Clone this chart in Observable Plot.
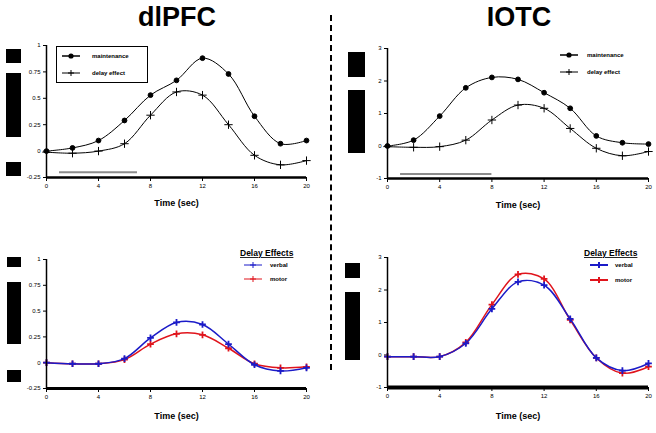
<!DOCTYPE html>
<html>
<head>
<meta charset="utf-8">
<script src="https://cdn.jsdelivr.net/npm/d3@7"></script>
<script src="https://cdn.jsdelivr.net/npm/@observablehq/plot@0.6"></script>
<style>
  body { margin: 0; background: #fff; }
  #root { position: relative; width: 656px; height: 433px; background: #fff; overflow: hidden; font-family: "Liberation Sans", Arial, sans-serif; }
  .abs { position: absolute; }
  .title { position: absolute; font-weight: bold; font-size: 27px; line-height: 27px; text-align: center; width: 200px; }
  .redact { position: absolute; background: #000; }
  .leg { position: absolute; overflow: visible; }
</style>
</head>
<body>
<div id="root"></div>
<script>
// ---- data ----
const time = [0, 2, 4, 6, 8, 10, 12, 14, 16, 18, 20];
const xTicks = [0, 4, 8, 12, 16, 20];

const dlpfcMaintenance = [0, 0.03, 0.10, 0.29, 0.53, 0.67, 0.88, 0.73, 0.33, 0.07, 0.10];
const dlpfcDelay       = [-0.01, -0.02, 0, 0.07, 0.34, 0.56, 0.53, 0.25, -0.04, -0.13, -0.09];
const lotcMaintenance  = [0, 0.18, 0.92, 1.79, 2.11, 2.05, 1.64, 1.16, 0.31, 0.10, 0.06];
const lotcDelay        = [-0.02, -0.04, -0.02, 0.18, 0.80, 1.26, 1.16, 0.54, -0.07, -0.30, -0.17];

const dlpfcBlue = [0, -0.01, -0.01, 0.04, 0.24, 0.39, 0.37, 0.18, -0.02, -0.08, -0.05];
const dlpfcRed  = [0, -0.01, -0.01, 0.03, 0.18, 0.28, 0.27, 0.14, -0.01, -0.05, -0.04];
const lotcBlue  = [-0.05, -0.05, -0.05, 0.36, 1.42, 2.25, 2.15, 1.11, -0.09, -0.48, -0.26];
const lotcRed   = [-0.05, -0.05, -0.05, 0.39, 1.55, 2.48, 2.34, 1.08, -0.09, -0.56, -0.36];

const dlpfcTicks = [-0.25, 0, 0.25, 0.5, 0.75, 1];
const lotcTicks  = [-1, 0, 1, 2, 3];

const stimDlpfc = [1, 7];   const stimDlpfcLevel = -0.2;
const stimLotc  = [1, 8];   const stimLotcLevel  = -0.86;

const titles = ["dlPFC", "IOTC"];
const legendTop = ["maintenance", "delay effect"];
const legendBottomTitle = "Delay Effects";
const legendBottom = ["verbal", "motor"];
const axisTitle = "Time (sec)";

const BLUE = "#1b1bc8", RED = "#e0141c", GRAY = "#8c8c8c";

// ---- helpers ----
const root = document.getElementById("root");
const rows = arr => time.map((t, i) => ({t, v: arr[i]}));

function panel({left, top, width, height, mL, mR, mT, mB, yDomain, yTicks, series, stim, stimLevel, xAxisWidth, labelDy}) {
  const marks = [];
  if (stim) marks.push(Plot.ruleY([stimLevel], {x1: stim[0], x2: stim[1], stroke: GRAY, strokeWidth: 2}));
  for (const s of series) {
    marks.push(Plot.line(rows(s.values), {x: "t", y: "v", stroke: s.color, strokeWidth: s.lw || 1, curve: "catmull-rom"}));
    marks.push(Plot.dot(rows(s.values), {x: "t", y: "v", symbol: s.symbol,
      fill: s.symbol === "circle" ? s.color : "none", stroke: s.color, strokeWidth: s.mw || 1, r: s.r || 3}));
  }
  marks.push(Plot.ruleY([yDomain[0]], {strokeWidth: xAxisWidth}));
  marks.push(Plot.ruleX([0], {strokeWidth: 1.5}));
  marks.push(Plot.text([axisTitle], {frameAnchor: "bottom", dy: labelDy, fontSize: 9, fontWeight: "bold"}));
  const chart = Plot.plot({
    width, height, marginLeft: mL, marginRight: mR, marginTop: mT, marginBottom: mB,
    x: {domain: [0, 20], ticks: xTicks, tickSize: 4, tickPadding: 2, label: null},
    y: {domain: yDomain, ticks: yTicks, tickSize: 3, tickPadding: 3, label: null, tickFormat: d => String(d)},
    style: {fontSize: "6px", fontFamily: "Liberation Sans, Arial, sans-serif", color: "#000", background: "transparent", overflow: "visible"},
    marks
  });
  chart.style.position = "absolute";
  chart.style.left = left + "px";
  chart.style.top = top + "px";
  root.appendChild(chart);
}

panel({left: 0, top: 30, width: 330, height: 195, mL: 46, mR: 24, mT: 15, mB: 48,
  yDomain: [-0.25, 1], yTicks: dlpfcTicks, stim: stimDlpfc, stimLevel: stimDlpfcLevel, xAxisWidth: 2.5, labelDy: 28,
  series: [
    {values: dlpfcMaintenance, color: "#000", symbol: "circle", r: 2.4},
    {values: dlpfcDelay, color: "#000", symbol: "plus", r: 2.8}
  ]});
panel({left: 330, top: 30, width: 326, height: 195, mL: 57, mR: 8, mT: 18, mB: 47,
  yDomain: [-1, 3], yTicks: lotcTicks, stim: stimLotc, stimLevel: stimLotcLevel, xAxisWidth: 2.5, labelDy: 29,
  series: [
    {values: lotcMaintenance, color: "#000", symbol: "circle", r: 2.4},
    {values: lotcDelay, color: "#000", symbol: "plus", r: 2.8}
  ]});
panel({left: 0, top: 240, width: 330, height: 190, mL: 46, mR: 24, mT: 19, mB: 42,
  yDomain: [-0.25, 1], yTicks: dlpfcTicks, xAxisWidth: 3, labelDy: 30,
  series: [
    {values: dlpfcRed, color: RED, symbol: "plus", r: 2.3, lw: 1.5, mw: 1.8},
    {values: dlpfcBlue, color: BLUE, symbol: "plus", r: 2.3, lw: 1.5, mw: 1.8}
  ]});
panel({left: 330, top: 240, width: 326, height: 190, mL: 57, mR: 8, mT: 17, mB: 43,
  yDomain: [-1, 3], yTicks: lotcTicks, xAxisWidth: 4, labelDy: 31,
  series: [
    {values: lotcRed, color: RED, symbol: "plus", r: 2.3, lw: 1.5, mw: 1.8},
    {values: lotcBlue, color: BLUE, symbol: "plus", r: 2.3, lw: 1.5, mw: 1.8}
  ]});

// ---- titles ----
function addTitle(text, cx) {
  const d = document.createElement("div");
  d.className = "title";
  d.textContent = text;
  d.style.left = (cx - 100) + "px";
  d.style.top = "4px";
  root.appendChild(d);
}
addTitle(titles[0], 177);
addTitle(titles[1], 519);

// ---- divider ----
const div = document.createElement("div");
div.className = "abs";
Object.assign(div.style, {left: "330px", top: "15px", width: "0px", height: "355px", borderLeft: "2px dashed #000"});
root.appendChild(div);

// ---- redaction boxes ----
[[6,49,15,14],[6,73,15,64],[6,162,15,14],
 [348,52,17,25],[348,90,17,63],
 [7,257,14,10],[7,282,14,62],[7,370,14,12],
 [345,263,15,15],[345,292,15,68]].forEach(([x,y,w,h]) => {
  const r = document.createElement("div");
  r.className = "redact";
  Object.assign(r.style, {left: x+"px", top: y+"px", width: w+"px", height: h+"px"});
  root.appendChild(r);
});

// ---- legends ----
const NS = "http://www.w3.org/2000/svg";
function legend({x, y, w, h, box, title, items}) {
  const svg = document.createElementNS(NS, "svg");
  svg.setAttribute("class", "leg");
  svg.setAttribute("width", w); svg.setAttribute("height", h);
  svg.style.left = x + "px"; svg.style.top = y + "px";
  let html = "";
  if (box) html += `<rect x="0.5" y="0.5" width="${w-1}" height="${h-1}" fill="white" stroke="black"/>`;
  if (title) html += `<text x="${title.x}" y="${title.y}" font-size="8.5" font-weight="bold" font-family="Liberation Sans, Arial" text-decoration="underline">${title.text}</text>`;
  for (const it of items) {
    html += `<line x1="${it.x}" x2="${it.x+18}" y1="${it.y}" y2="${it.y}" stroke="${it.color}" stroke-width="${it.lw||1}"/>`;
    const cx = it.x + 9;
    if (it.symbol === "circle") html += `<circle cx="${cx}" cy="${it.y}" r="2.6" fill="${it.color}"/>`;
    else html += `<path d="M${cx-3},${it.y}H${cx+3}M${cx},${it.y-3}V${it.y+3}" stroke="${it.color}" stroke-width="${it.mw||1}"/>`;
    html += `<text x="${it.tx}" y="${it.y+2}" font-size="6" font-weight="bold" font-family="Liberation Sans, Arial">${it.text}</text>`;
  }
  svg.innerHTML = html;
  root.appendChild(svg);
}
legend({x: 56, y: 46, w: 92, h: 37, box: true, items: [
  {x: 6, y: 10, tx: 36, color: "#000", symbol: "circle", lw: 1.5, text: legendTop[0]},
  {x: 6, y: 27, tx: 36, color: "#000", symbol: "plus", text: legendTop[1]}
]});
legend({x: 555, y: 46, w: 100, h: 37, items: [
  {x: 5, y: 9, tx: 32, color: "#000", symbol: "circle", lw: 1.5, text: legendTop[0]},
  {x: 5, y: 26, tx: 32, color: "#000", symbol: "plus", text: legendTop[1]}
]});
legend({x: 236, y: 246, w: 95, h: 40, title: {x: 4, y: 10, text: legendBottomTitle}, items: [
  {x: 8, y: 19, tx: 34, color: BLUE, symbol: "plus", text: legendBottom[0]},
  {x: 8, y: 33, tx: 34, color: RED, symbol: "plus", text: legendBottom[1]}
]});
legend({x: 582, y: 246, w: 74, h: 40, title: {x: 2, y: 10, text: legendBottomTitle}, items: [
  {x: 8, y: 19, tx: 33, color: BLUE, symbol: "plus", lw: 2, mw: 2, text: legendBottom[0]},
  {x: 8, y: 34, tx: 33, color: RED, symbol: "plus", lw: 2, mw: 2, text: legendBottom[1]}
]});
</script>
</body>
</html>
